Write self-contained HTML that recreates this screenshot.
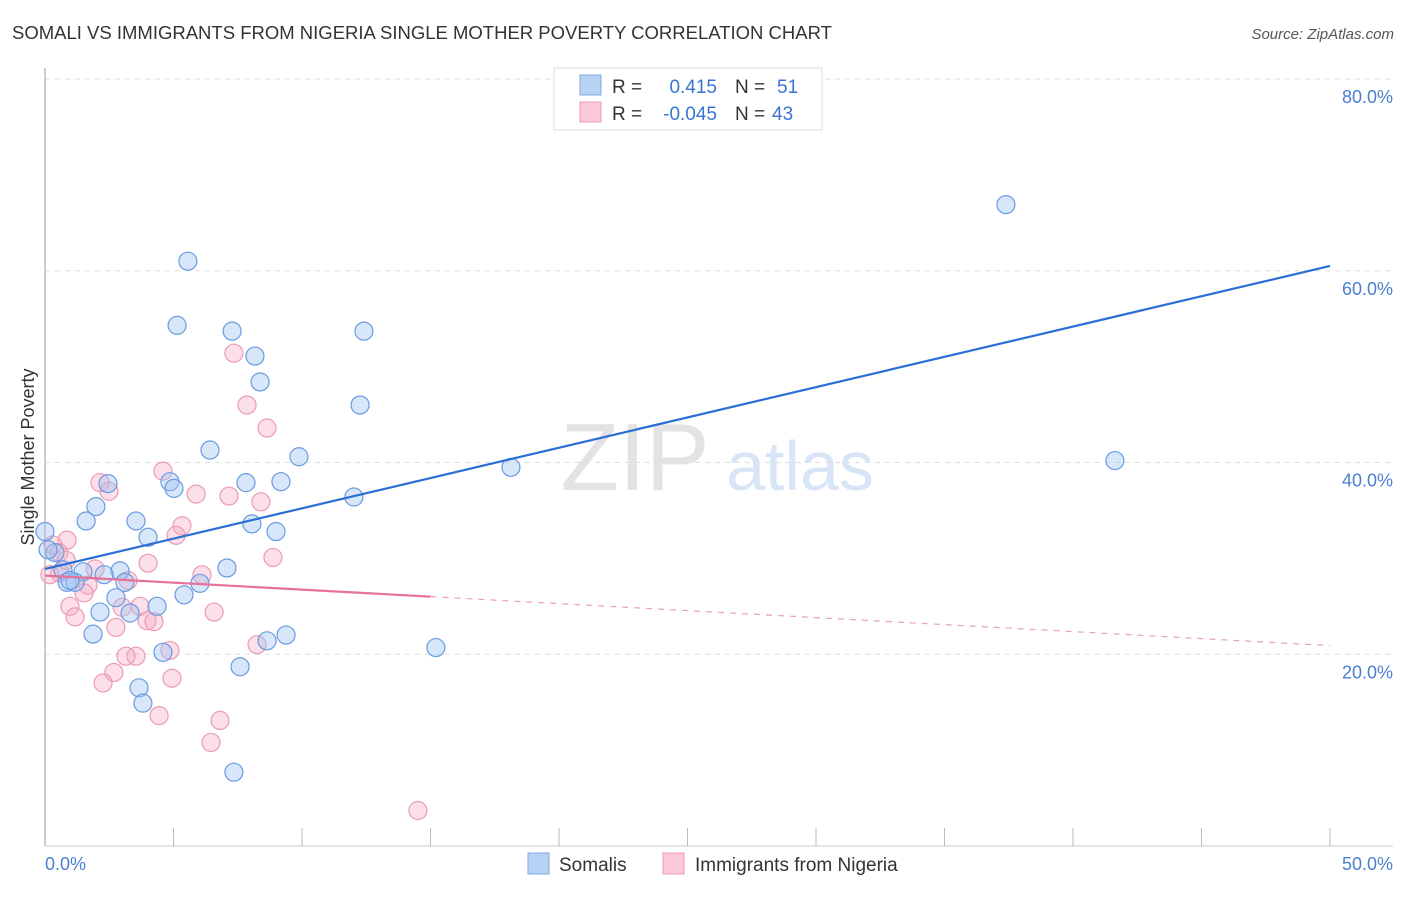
<!DOCTYPE html>
<html><head><meta charset="utf-8">
<style>
body{margin:0;background:#fff;font-family:"Liberation Sans",sans-serif;}
svg text{font-family:"Liberation Sans",sans-serif;}
</style></head><body>
<svg id="chart" width="1406" height="892" viewBox="0 0 1406 892">
<text x="12" y="39" font-size="18.5" fill="#333">SOMALI VS IMMIGRANTS FROM NIGERIA SINGLE MOTHER POVERTY CORRELATION CHART</text>
<text x="1394" y="39" font-size="15" fill="#555" font-style="italic" text-anchor="end">Source: ZipAtlas.com</text>
<g id="grid"></g>
<g><text x="635" y="490" font-size="96" fill="#e3e3e3" font-family="Liberation Serif" text-anchor="middle">ZIP</text><text x="800" y="490" font-size="70" fill="#d8e5f6" text-anchor="middle">atlas</text></g>
<line x1="45" y1="68" x2="45" y2="846" stroke="#bbb" stroke-width="1.5"/>
<line x1="45" y1="846" x2="1393" y2="846" stroke="#ccc" stroke-width="1"/>
<g id="xticks"></g>
<g id="yticks"></g>
<g id="pts"></g>
<g id="lines"></g>
<text x="45" y="870" font-size="18" fill="#4a7fd0">0.0%</text>
<text x="1393" y="870" font-size="18" fill="#4a7fd0" text-anchor="end">50.0%</text>
<text transform="translate(34,457) rotate(-90)" font-size="18" fill="#333" text-anchor="middle">Single Mother Poverty</text>
<g>
<rect x="554" y="68" width="268" height="62" fill="#fff" stroke="#ddd"/>
<rect x="580" y="75" width="21" height="20" fill="#b8d2f4" stroke="#7ea8e6"/>
<rect x="580" y="102" width="21" height="20" fill="#fac8d8" stroke="#ee9ab6"/>
<text x="612" y="93" font-size="19" fill="#333">R =</text><text x="717" y="93" font-size="19" fill="#3a74d2" text-anchor="end">0.415</text>
<text x="735" y="93" font-size="19" fill="#333">N =</text><text x="777" y="93" font-size="19" fill="#3a74d2">51</text>
<text x="612" y="120" font-size="19" fill="#333">R =</text><text x="717" y="120" font-size="19" fill="#3a74d2" text-anchor="end">-0.045</text>
<text x="735" y="120" font-size="19" fill="#333">N =</text><text x="772" y="120" font-size="19" fill="#3a74d2">43</text>
</g>
<g>
<rect x="528" y="853" width="21" height="21" fill="#b8d2f4" stroke="#7ea8e6"/>
<text x="559" y="871" font-size="19" fill="#333">Somalis</text>
<rect x="663" y="853" width="21" height="21" fill="#fac8d8" stroke="#ee9ab6"/>
<text x="695" y="871" font-size="19" fill="#333">Immigrants from Nigeria</text>
</g>
</svg>
<script>
const somX=[5.56,5.14,7.28,8.17,12.41,8.37,12.26,6.42,9.88,18.13,37.39,41.63,2.45,4.86,5.02,7.82,9.18,12.02,1.98,1.60,3.54,8.05,8.99,4.01,0,0.39,7.08,0.70,1.48,0.86,1.17,2.92,2.30,3.11,6.03,2.76,5.41,4.36,2.14,3.31,1.87,9.38,8.64,15.21,4.59,7.59,3.66,3.81,7.35,0.12,0.97];
const somY=[61.0,54.3,53.7,51.1,53.7,48.4,46.0,41.3,40.6,39.5,66.9,40.2,37.8,38.0,37.3,37.9,38.0,36.4,35.4,33.9,33.9,33.6,32.8,32.2,32.8,30.6,29.0,28.8,28.6,27.5,27.5,28.7,28.3,27.5,27.4,25.9,26.2,25.0,24.4,24.3,22.1,22.0,21.4,20.7,20.2,18.7,16.5,14.9,7.7,30.9,27.7];
const nigX=[7.35,7.86,8.64,4.59,2.14,2.49,5.88,7.16,8.40,5.33,5.10,0.86,0.31,0.54,4.01,8.87,6.11,1.95,0.19,0.58,3.23,1.67,1.52,0.97,1.17,3.70,3.00,3.97,4.24,6.58,2.76,4.86,3.54,3.15,8.25,2.68,2.26,4.94,4.44,6.81,6.46,14.51,0.82];
const nigY=[51.4,46.0,43.6,39.1,37.9,37.0,36.7,36.5,35.9,33.4,32.4,31.9,31.4,30.6,29.5,30.1,28.3,28.9,28.3,28.5,27.7,27.2,26.4,25.0,23.9,25.0,24.9,23.5,23.4,24.4,22.8,20.4,19.8,19.8,21.0,18.1,17.0,17.5,13.6,13.1,10.8,3.7,29.8];
const yTicks=[20,40,60,80];
const xTicks=[0,5,10,15,20,25,30,35,40,45,50];
const somTrend=[28.9,60.5];
const nigTrend=[28.2,20.9];
const nigSolidEnd=15;
const NS="http://www.w3.org/2000/svg";
const sx=v=>45+v*25.7, sy=v=>846-v*9.5875;
function mk(t,a,p){const e=document.createElementNS(NS,t);for(const k in a)e.setAttribute(k,a[k]);p.appendChild(e);return e;}
const grid=document.getElementById('grid'),yt=document.getElementById('yticks'),xt=document.getElementById('xticks');
yTicks.forEach(v=>{
 const l=mk('line',{x1:45,x2:1393,y1:sy(v),y2:sy(v),stroke:'#ddd','stroke-dasharray':'5,5'},grid);
 
 
 const t=mk('text',{x:1393,y:sy(v)+24,'font-size':18,fill:'#4a7fd0','text-anchor':'end'},yt);
 t.textContent=v.toFixed(1)+'%';
 
 
});
xTicks.forEach(v=>{
 const l=mk('line',{x1:sx(v),x2:sx(v),y1:828,y2:846,stroke:'#bbb'},xt);
 
 
});
const pts=document.getElementById('pts');
nigX.forEach((x,i)=>{
 const c=mk('circle',{cx:sx(x),cy:sy(nigY[i]),r:9,fill:'rgba(246,170,196,0.38)',stroke:'#ec9ab5','stroke-width':1.2},pts);
 
 
});
somX.forEach((x,i)=>{
 const c=mk('circle',{cx:sx(x),cy:sy(somY[i]),r:9,fill:'rgba(160,196,240,0.42)',stroke:'#6a9be0','stroke-width':1.2},pts);
 
 
});
const ln=document.getElementById('lines');
const b=mk('line',{x1:sx(0),y1:sy(somTrend[0]),x2:sx(50),y2:sy(somTrend[1]),stroke:'#2b6fd6','stroke-width':2.2},ln);


const ny=x=>nigTrend[0]+(nigTrend[1]-nigTrend[0])*x/50;
const p1=mk('line',{x1:sx(0),y1:sy(ny(0)),x2:sx(nigSolidEnd),y2:sy(ny(nigSolidEnd)),stroke:'#e8719a','stroke-width':2.2},ln);


const p2=mk('line',{x1:sx(nigSolidEnd),y1:sy(ny(nigSolidEnd)),x2:sx(50),y2:sy(ny(50)),stroke:'#eaa0ba','stroke-width':1.2,'stroke-dasharray':'6,6'},ln);


</script>
</body></html>
